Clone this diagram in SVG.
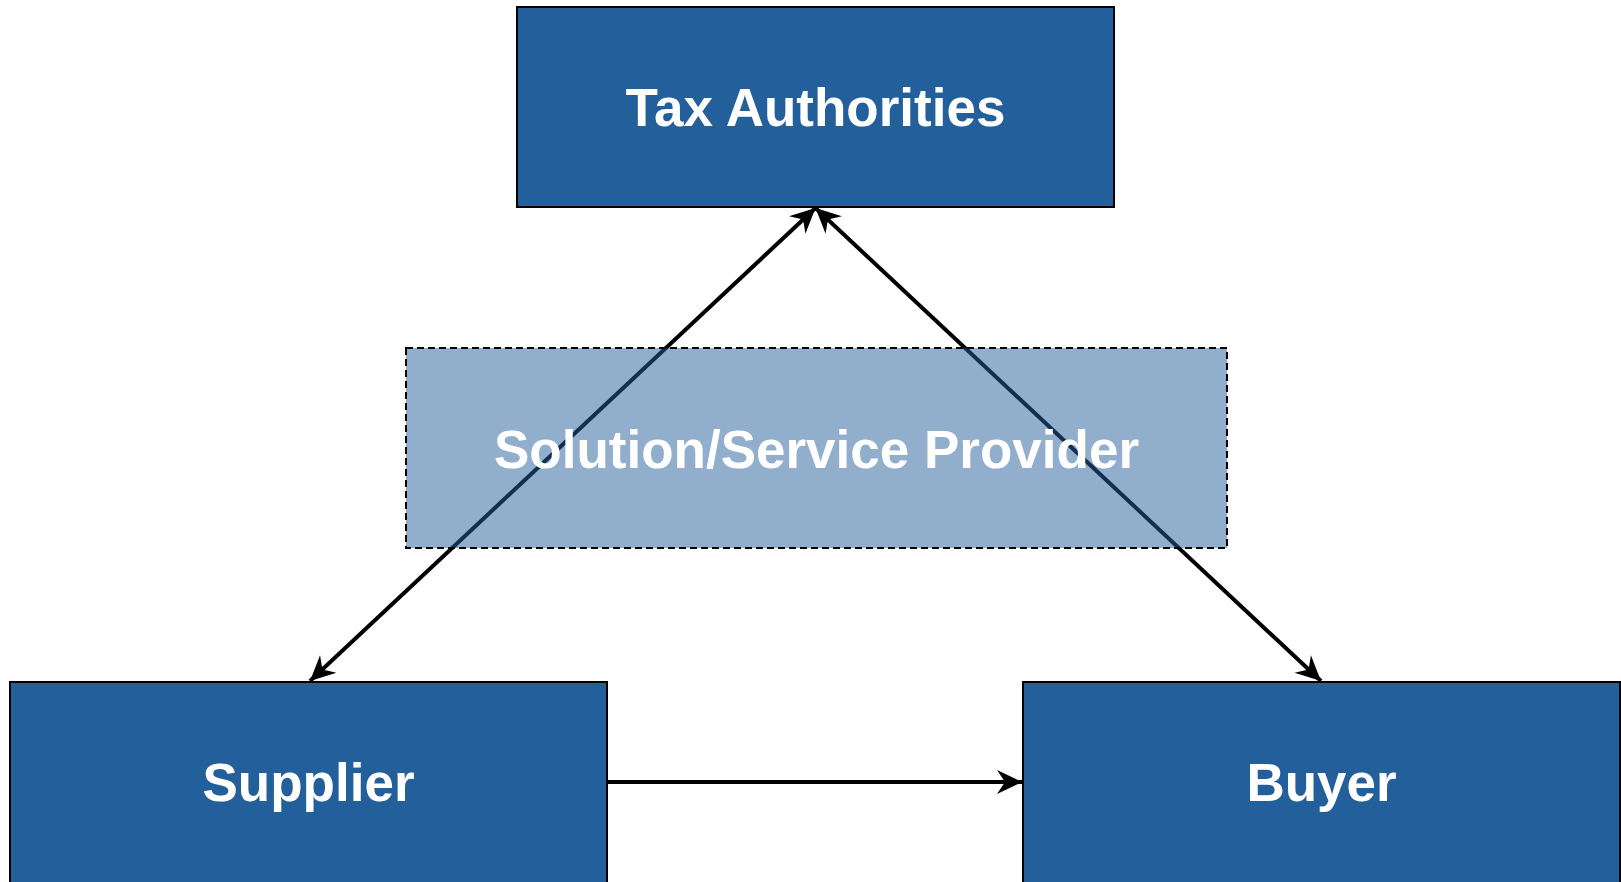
<svg xmlns="http://www.w3.org/2000/svg" width="1621" height="882" viewBox="0 0 1621 882">
<style>
.box{fill:#235f9b;stroke:#000;stroke-width:2}
.soft{fill:#235f9b;fill-opacity:0.5;stroke:#000;stroke-width:2;stroke-dasharray:7 4}
.lbl{font-family:"Liberation Sans",Arial,sans-serif;font-weight:bold;font-size:53px;fill:#fff;text-anchor:middle}
.edge{stroke:#000;stroke-width:4;fill:none}
</style>
<defs>
<marker id="ah" markerUnits="userSpaceOnUse" viewBox="-26 -14 28 28" refX="0" refY="0" markerWidth="28" markerHeight="28" orient="auto-start-reverse">
<path d="M0,0 L-25,-12 L-17,0 L-25,12 Z" fill="#000"/>
</marker>
</defs>
<rect width="1621" height="882" fill="#fff"/>
<g id="tax"><rect class="box" x="517" y="7" width="597" height="200"/><text class="lbl" x="815.5" y="126">Tax Authorities</text></g>
<g id="supplier"><rect class="box" x="10" y="682" width="597" height="202"/><text class="lbl" x="308.5" y="801">Supplier</text></g>
<g id="buyer"><rect class="box" x="1023" y="682" width="597" height="202"/><text class="lbl" x="1321.5" y="801">Buyer</text></g>
<g id="connectors">
<line class="edge" x1="310" y1="681" x2="815.5" y2="208" marker-start="url(#ah)" marker-end="url(#ah)"/>
<line class="edge" x1="1321" y1="681" x2="815.5" y2="208" marker-start="url(#ah)" marker-end="url(#ah)"/>
<line class="edge" x1="608" y1="782" x2="1022" y2="782" marker-end="url(#ah)"/>
</g>
<g id="provider"><rect class="soft" x="406" y="348" width="821" height="200"/><text class="lbl" x="816.5" y="468">Solution/Service Provider</text></g>
</svg>
